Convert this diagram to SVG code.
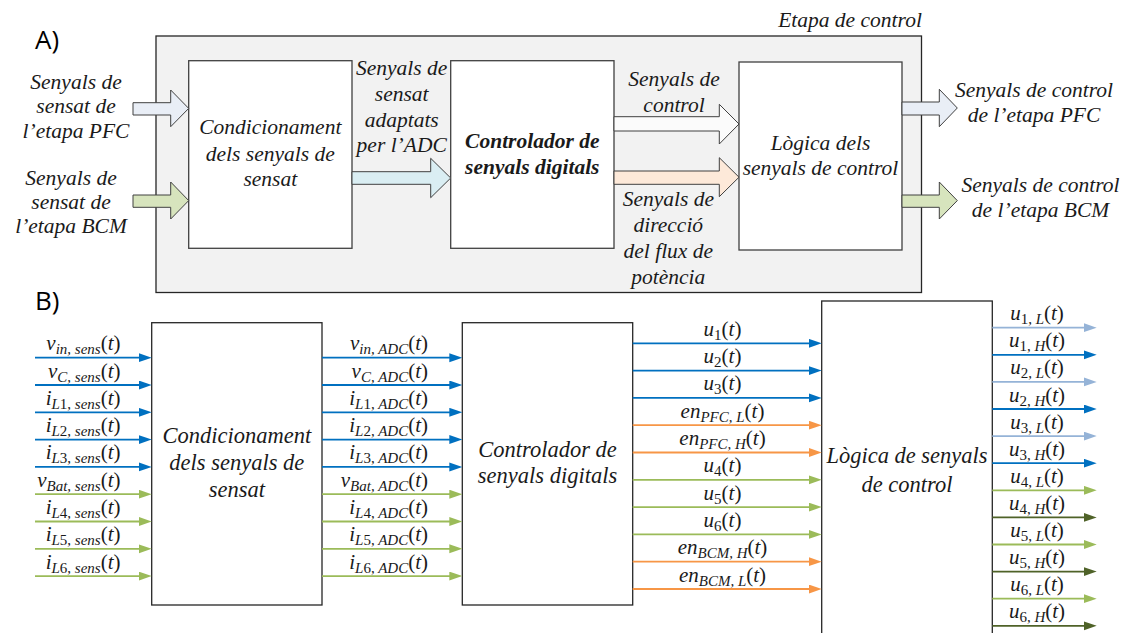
<svg xmlns="http://www.w3.org/2000/svg" width="1122" height="633" viewBox="0 0 1122 633">
  <style>
    .tx { font-family: 'Liberation Serif', 'Times New Roman', serif; font-style: italic; fill: #1a1a1a; }
    .ta { font-size: 21.5px; text-anchor: middle; }
    .tbig { font-size: 22.5px; text-anchor: middle; }
    .tbold { font-weight: bold; }
    .lbl { font-size: 21px; }
    .end { text-anchor: end; }
    .mid { text-anchor: middle; }
    .sub { font-size: 15px; }
    .up { font-style: normal; }
    .panel { font-family: 'Open Sans', 'Noto Sans', sans-serif; font-size: 26px; fill: #000; }
    .frame { fill: #f2f2f2; stroke: #262626; stroke-width: 1.3; }
    .blk { fill: #ffffff; stroke: #404040; stroke-width: 1.3; }
    .blkB { fill: #ffffff; stroke: #262626; stroke-width: 1.3; }
    .fat { stroke: #404040; stroke-width: 1; stroke-linejoin: miter; }
    .sig { stroke-width: 1.8; fill: none; }
    .blue { stroke: #0070c0; }
    .green { stroke: #9bbb59; }
    .orange { stroke: #f79646; }
    .lblue { stroke: #95b3d7; }
    .dgreen { stroke: #4f6228; }
  </style>
  <defs>
    <marker id="hBlue" markerUnits="userSpaceOnUse" markerWidth="14" markerHeight="10" refX="5" refY="4.5" orient="auto"><path d="M0,0 L13,4.5 L0,9 z" fill="#0070c0"/></marker>
    <marker id="hGreen" markerUnits="userSpaceOnUse" markerWidth="14" markerHeight="10" refX="5" refY="4.5" orient="auto"><path d="M0,0 L13,4.5 L0,9 z" fill="#9bbb59"/></marker>
    <marker id="hOrange" markerUnits="userSpaceOnUse" markerWidth="14" markerHeight="10" refX="5" refY="4.5" orient="auto"><path d="M0,0 L13,4.5 L0,9 z" fill="#f79646"/></marker>
    <marker id="hLBlue" markerUnits="userSpaceOnUse" markerWidth="14" markerHeight="10" refX="5" refY="4.5" orient="auto"><path d="M0,0 L13,4.5 L0,9 z" fill="#95b3d7"/></marker>
    <marker id="hDGreen" markerUnits="userSpaceOnUse" markerWidth="14" markerHeight="10" refX="5" refY="4.5" orient="auto"><path d="M0,0 L13,4.5 L0,9 z" fill="#4f6228"/></marker>
  </defs>

  <!-- Part A: block overview -->
  <text class="panel" x="35" y="48.5">A)</text>
  <g id="etapa-control">
    <rect class="frame" x="156" y="36" width="765.5" height="256.5"/>
    <text class="tx ta" x="850" y="26.5">Etapa de control</text>
  </g>

  <g id="a-condicionament">
    <rect class="blk" x="188.7" y="60.7" width="163.3" height="187.6"/>
    <text class="tx ta" x="270.3" y="134">Condicionament</text>
    <text class="tx ta" x="270.3" y="160.5">dels senyals de</text>
    <text class="tx ta" x="270.3" y="186">sensat</text>
  </g>
  <g id="a-controlador">
    <rect class="blk" x="450.7" y="60.7" width="163.3" height="187.6"/>
    <text class="tx ta tbold" x="532.3" y="148">Controlador de</text>
    <text class="tx ta tbold" x="532.3" y="173.5">senyals digitals</text>
  </g>
  <g id="a-logica">
    <rect class="blk" x="739" y="62" width="163" height="188"/>
    <text class="tx ta" x="820.5" y="149.5">L&#242;gica dels</text>
    <text class="tx ta" x="820.5" y="175">senyals de control</text>
  </g>

  <!-- block arrows of part A -->
  <g id="a-connectors">
    <polygon class="fat" fill="#e9eef6" points="133,102.7 170.7,102.7 170.7,90 188.7,108.4 170.7,126.7 170.7,115 133,115"/>
    <polygon class="fat" fill="#d7e4bd" points="133,195 170.7,195 170.7,182 188.7,200.6 170.7,219 170.7,207.3 133,207.3"/>
    <polygon class="fat" fill="#daeef3" points="352,171.7 430.7,171.7 430.7,158.3 450.7,178 430.7,197.7 430.7,184.3 352,184.3"/>
    <polygon class="fat" fill="#fbfbfb" points="614,116.7 719.3,116.7 719.3,104.3 739,124 719.3,144 719.3,131 614,131"/>
    <polygon class="fat" fill="#fde9d9" points="614,171 719.3,171 719.3,157.7 739,177.2 719.3,196.7 719.3,184.3 614,184.3"/>
    <polygon class="fat" fill="#e9eef6" points="902,102 939.3,102 939.3,89.3 957.3,108 939.3,126.7 939.3,115 902,115"/>
    <polygon class="fat" fill="#d7e4bd" points="902,195 939.3,195 939.3,182 957.3,200.6 939.3,219 939.3,207.3 902,207.3"/>
  </g>

  <g id="a-labels">
    <text class="tx ta" x="76" y="88.5">Senyals de</text>
    <text class="tx ta" x="76" y="113">sensat de</text>
    <text class="tx ta" x="76" y="137.5">l&#8217;etapa PFC</text>
    <text class="tx ta" x="71" y="185">Senyals de</text>
    <text class="tx ta" x="71" y="209">sensat de</text>
    <text class="tx ta" x="71" y="233">l&#8217;etapa BCM</text>
    <text class="tx ta" x="401.7" y="75">Senyals de</text>
    <text class="tx ta" x="401.7" y="101">sensat</text>
    <text class="tx ta" x="401.7" y="127">adaptats</text>
    <text class="tx ta" x="401.7" y="152">per l&#8217;ADC</text>
    <text class="tx ta" x="674" y="86">Senyals de</text>
    <text class="tx ta" x="674" y="111.5">control</text>
    <text class="tx ta" x="668.3" y="205.5">Senyals de</text>
    <text class="tx ta" x="668.3" y="232">direcci&#243;</text>
    <text class="tx ta" x="668.3" y="258">del flux de</text>
    <text class="tx ta" x="668.3" y="283.5">pot&#232;ncia</text>
    <text class="tx ta" x="1034" y="96.7">Senyals de control</text>
    <text class="tx ta" x="1034" y="121.7">de l&#8217;etapa PFC</text>
    <text class="tx ta" x="1040.5" y="191.5">Senyals de control</text>
    <text class="tx ta" x="1040.5" y="217">de l&#8217;etapa BCM</text>
  </g>

  <!-- Part B: signal detail -->
  <text class="panel" x="35" y="310">B)</text>

  <g id="b-condicionament">
    <rect class="blkB" x="151.7" y="322.7" width="170.3" height="282.3"/>
    <text class="tx tbig" x="236.8" y="443.3">Condicionament</text>
    <text class="tx tbig" x="236.8" y="470">dels senyals de</text>
    <text class="tx tbig" x="236.8" y="497.3">sensat</text>
  </g>
  <g id="b-controlador">
    <rect class="blkB" x="462.3" y="322.7" width="170.4" height="282.3"/>
    <text class="tx tbig" x="547.5" y="456.7">Controlador de</text>
    <text class="tx tbig" x="547.5" y="483.3">senyals digitals</text>
  </g>
  <g id="b-logica">
    <rect class="blkB" x="821.7" y="301" width="170.6" height="345"/>
    <text class="tx tbig" x="907" y="463.3">L&#242;gica de senyals</text>
    <text class="tx tbig" x="907" y="491.7">de control</text>
  </g>

  <g id="b-connectors">
    <!-- sensed signals into conditioning -->
    <line class="sig blue" x1="35" y1="357.7" x2="143.7" y2="357.7" marker-end="url(#hBlue)"/>
    <line class="sig blue" x1="35" y1="385" x2="143.7" y2="385" marker-end="url(#hBlue)"/>
    <line class="sig blue" x1="35" y1="412.3" x2="143.7" y2="412.3" marker-end="url(#hBlue)"/>
    <line class="sig blue" x1="35" y1="439.6" x2="143.7" y2="439.6" marker-end="url(#hBlue)"/>
    <line class="sig blue" x1="35" y1="466.9" x2="143.7" y2="466.9" marker-end="url(#hBlue)"/>
    <line class="sig green" x1="35" y1="494.2" x2="143.7" y2="494.2" marker-end="url(#hGreen)"/>
    <line class="sig green" x1="35" y1="521.5" x2="143.7" y2="521.5" marker-end="url(#hGreen)"/>
    <line class="sig green" x1="35" y1="548.8" x2="143.7" y2="548.8" marker-end="url(#hGreen)"/>
    <line class="sig green" x1="35" y1="576.1" x2="143.7" y2="576.1" marker-end="url(#hGreen)"/>
    <!-- adapted signals into controller -->
    <line class="sig blue" x1="322" y1="357.7" x2="454.3" y2="357.7" marker-end="url(#hBlue)"/>
    <line class="sig blue" x1="322" y1="385" x2="454.3" y2="385" marker-end="url(#hBlue)"/>
    <line class="sig blue" x1="322" y1="412.3" x2="454.3" y2="412.3" marker-end="url(#hBlue)"/>
    <line class="sig blue" x1="322" y1="439.6" x2="454.3" y2="439.6" marker-end="url(#hBlue)"/>
    <line class="sig blue" x1="322" y1="466.9" x2="454.3" y2="466.9" marker-end="url(#hBlue)"/>
    <line class="sig green" x1="322" y1="494.2" x2="454.3" y2="494.2" marker-end="url(#hGreen)"/>
    <line class="sig green" x1="322" y1="521.5" x2="454.3" y2="521.5" marker-end="url(#hGreen)"/>
    <line class="sig green" x1="322" y1="548.8" x2="454.3" y2="548.8" marker-end="url(#hGreen)"/>
    <line class="sig green" x1="322" y1="576.1" x2="454.3" y2="576.1" marker-end="url(#hGreen)"/>
    <!-- controller outputs -->
    <line class="sig blue" x1="632.7" y1="343.3" x2="813.7" y2="343.3" marker-end="url(#hBlue)"/>
    <line class="sig blue" x1="632.7" y1="370.6" x2="813.7" y2="370.6" marker-end="url(#hBlue)"/>
    <line class="sig blue" x1="632.7" y1="397.9" x2="813.7" y2="397.9" marker-end="url(#hBlue)"/>
    <line class="sig orange" x1="632.7" y1="425.2" x2="813.7" y2="425.2" marker-end="url(#hOrange)"/>
    <line class="sig orange" x1="632.7" y1="452.5" x2="813.7" y2="452.5" marker-end="url(#hOrange)"/>
    <line class="sig green" x1="632.7" y1="479.8" x2="813.7" y2="479.8" marker-end="url(#hGreen)"/>
    <line class="sig green" x1="632.7" y1="507.1" x2="813.7" y2="507.1" marker-end="url(#hGreen)"/>
    <line class="sig green" x1="632.7" y1="534.4" x2="813.7" y2="534.4" marker-end="url(#hGreen)"/>
    <line class="sig orange" x1="632.7" y1="561.7" x2="813.7" y2="561.7" marker-end="url(#hOrange)"/>
    <line class="sig orange" x1="632.7" y1="589" x2="813.7" y2="589" marker-end="url(#hOrange)"/>
    <!-- gate signals out of the logic block -->
    <line class="sig lblue" x1="992.3" y1="327.7" x2="1088.7" y2="327.7" marker-end="url(#hLBlue)"/>
    <line class="sig blue" x1="992.3" y1="354.8" x2="1088.7" y2="354.8" marker-end="url(#hBlue)"/>
    <line class="sig lblue" x1="992.3" y1="381.9" x2="1088.7" y2="381.9" marker-end="url(#hLBlue)"/>
    <line class="sig blue" x1="992.3" y1="409" x2="1088.7" y2="409" marker-end="url(#hBlue)"/>
    <line class="sig lblue" x1="992.3" y1="436.1" x2="1088.7" y2="436.1" marker-end="url(#hLBlue)"/>
    <line class="sig blue" x1="992.3" y1="463.2" x2="1088.7" y2="463.2" marker-end="url(#hBlue)"/>
    <line class="sig green" x1="992.3" y1="490.3" x2="1088.7" y2="490.3" marker-end="url(#hGreen)"/>
    <line class="sig dgreen" x1="992.3" y1="517.4" x2="1088.7" y2="517.4" marker-end="url(#hDGreen)"/>
    <line class="sig green" x1="992.3" y1="544.5" x2="1088.7" y2="544.5" marker-end="url(#hGreen)"/>
    <line class="sig dgreen" x1="992.3" y1="571.6" x2="1088.7" y2="571.6" marker-end="url(#hDGreen)"/>
    <line class="sig green" x1="992.3" y1="598.7" x2="1088.7" y2="598.7" marker-end="url(#hGreen)"/>
    <line class="sig dgreen" x1="992.3" y1="625.8" x2="1088.7" y2="625.8" marker-end="url(#hDGreen)"/>
  </g>

  <g id="b-labels-sens">
    <text class="tx lbl end" x="120.5" y="350.2">v<tspan class="sub" dy="4">in, sens</tspan><tspan class="up" dy="-4">(</tspan>t<tspan class="up">)</tspan></text>
    <text class="tx lbl end" x="120.5" y="377.5">v<tspan class="sub" dy="4">C, sens</tspan><tspan class="up" dy="-4">(</tspan>t<tspan class="up">)</tspan></text>
    <text class="tx lbl end" x="120.5" y="404.8">i<tspan class="sub" dy="4">L<tspan class="up">1,</tspan> sens</tspan><tspan class="up" dy="-4">(</tspan>t<tspan class="up">)</tspan></text>
    <text class="tx lbl end" x="120.5" y="432.1">i<tspan class="sub" dy="4">L<tspan class="up">2,</tspan> sens</tspan><tspan class="up" dy="-4">(</tspan>t<tspan class="up">)</tspan></text>
    <text class="tx lbl end" x="120.5" y="459.4">i<tspan class="sub" dy="4">L<tspan class="up">3,</tspan> sens</tspan><tspan class="up" dy="-4">(</tspan>t<tspan class="up">)</tspan></text>
    <text class="tx lbl end" x="120.5" y="486.7">v<tspan class="sub" dy="4">Bat, sens</tspan><tspan class="up" dy="-4">(</tspan>t<tspan class="up">)</tspan></text>
    <text class="tx lbl end" x="120.5" y="514">i<tspan class="sub" dy="4">L<tspan class="up">4,</tspan> sens</tspan><tspan class="up" dy="-4">(</tspan>t<tspan class="up">)</tspan></text>
    <text class="tx lbl end" x="120.5" y="541.3">i<tspan class="sub" dy="4">L<tspan class="up">5,</tspan> sens</tspan><tspan class="up" dy="-4">(</tspan>t<tspan class="up">)</tspan></text>
    <text class="tx lbl end" x="120.5" y="568.6">i<tspan class="sub" dy="4">L<tspan class="up">6,</tspan> sens</tspan><tspan class="up" dy="-4">(</tspan>t<tspan class="up">)</tspan></text>
  </g>

  <g id="b-labels-adc">
    <text class="tx lbl end" x="428" y="350.2">v<tspan class="sub" dy="4">in, ADC</tspan><tspan class="up" dy="-4">(</tspan>t<tspan class="up">)</tspan></text>
    <text class="tx lbl end" x="428" y="377.5">v<tspan class="sub" dy="4">C, ADC</tspan><tspan class="up" dy="-4">(</tspan>t<tspan class="up">)</tspan></text>
    <text class="tx lbl end" x="428" y="404.8">i<tspan class="sub" dy="4">L<tspan class="up">1,</tspan> ADC</tspan><tspan class="up" dy="-4">(</tspan>t<tspan class="up">)</tspan></text>
    <text class="tx lbl end" x="428" y="432.1">i<tspan class="sub" dy="4">L<tspan class="up">2,</tspan> ADC</tspan><tspan class="up" dy="-4">(</tspan>t<tspan class="up">)</tspan></text>
    <text class="tx lbl end" x="428" y="459.4">i<tspan class="sub" dy="4">L<tspan class="up">3,</tspan> ADC</tspan><tspan class="up" dy="-4">(</tspan>t<tspan class="up">)</tspan></text>
    <text class="tx lbl end" x="428" y="486.7">v<tspan class="sub" dy="4">Bat, ADC</tspan><tspan class="up" dy="-4">(</tspan>t<tspan class="up">)</tspan></text>
    <text class="tx lbl end" x="428" y="514">i<tspan class="sub" dy="4">L<tspan class="up">4,</tspan> ADC</tspan><tspan class="up" dy="-4">(</tspan>t<tspan class="up">)</tspan></text>
    <text class="tx lbl end" x="428" y="541.3">i<tspan class="sub" dy="4">L<tspan class="up">5,</tspan> ADC</tspan><tspan class="up" dy="-4">(</tspan>t<tspan class="up">)</tspan></text>
    <text class="tx lbl end" x="428" y="568.6">i<tspan class="sub" dy="4">L<tspan class="up">6,</tspan> ADC</tspan><tspan class="up" dy="-4">(</tspan>t<tspan class="up">)</tspan></text>
  </g>

  <g id="b-labels-ctrl">
    <text class="tx lbl mid" x="722.5" y="335.8">u<tspan class="sub up" dy="4">1</tspan><tspan class="up" dy="-4">(</tspan>t<tspan class="up">)</tspan></text>
    <text class="tx lbl mid" x="722.5" y="363.1">u<tspan class="sub up" dy="4">2</tspan><tspan class="up" dy="-4">(</tspan>t<tspan class="up">)</tspan></text>
    <text class="tx lbl mid" x="722.5" y="390.4">u<tspan class="sub up" dy="4">3</tspan><tspan class="up" dy="-4">(</tspan>t<tspan class="up">)</tspan></text>
    <text class="tx lbl mid" x="722.5" y="417.7">en<tspan class="sub" dy="4">PFC, L</tspan><tspan class="up" dy="-4">(</tspan>t<tspan class="up">)</tspan></text>
    <text class="tx lbl mid" x="722.5" y="445">en<tspan class="sub" dy="4">PFC, H</tspan><tspan class="up" dy="-4">(</tspan>t<tspan class="up">)</tspan></text>
    <text class="tx lbl mid" x="722.5" y="472.3">u<tspan class="sub up" dy="4">4</tspan><tspan class="up" dy="-4">(</tspan>t<tspan class="up">)</tspan></text>
    <text class="tx lbl mid" x="722.5" y="499.6">u<tspan class="sub up" dy="4">5</tspan><tspan class="up" dy="-4">(</tspan>t<tspan class="up">)</tspan></text>
    <text class="tx lbl mid" x="722.5" y="526.9">u<tspan class="sub up" dy="4">6</tspan><tspan class="up" dy="-4">(</tspan>t<tspan class="up">)</tspan></text>
    <text class="tx lbl mid" x="722.5" y="554.2">en<tspan class="sub" dy="4">BCM, H</tspan><tspan class="up" dy="-4">(</tspan>t<tspan class="up">)</tspan></text>
    <text class="tx lbl mid" x="722.5" y="581.5">en<tspan class="sub" dy="4">BCM, L</tspan><tspan class="up" dy="-4">(</tspan>t<tspan class="up">)</tspan></text>
  </g>

  <g id="b-labels-gate">
    <text class="tx lbl mid" x="1037" y="320.2">u<tspan class="sub" dy="4"><tspan class="up">1,</tspan> L</tspan><tspan class="up" dy="-4">(</tspan>t<tspan class="up">)</tspan></text>
    <text class="tx lbl mid" x="1037" y="347.3">u<tspan class="sub" dy="4"><tspan class="up">1,</tspan> H</tspan><tspan class="up" dy="-4">(</tspan>t<tspan class="up">)</tspan></text>
    <text class="tx lbl mid" x="1037" y="374.4">u<tspan class="sub" dy="4"><tspan class="up">2,</tspan> L</tspan><tspan class="up" dy="-4">(</tspan>t<tspan class="up">)</tspan></text>
    <text class="tx lbl mid" x="1037" y="401.5">u<tspan class="sub" dy="4"><tspan class="up">2,</tspan> H</tspan><tspan class="up" dy="-4">(</tspan>t<tspan class="up">)</tspan></text>
    <text class="tx lbl mid" x="1037" y="428.6">u<tspan class="sub" dy="4"><tspan class="up">3,</tspan> L</tspan><tspan class="up" dy="-4">(</tspan>t<tspan class="up">)</tspan></text>
    <text class="tx lbl mid" x="1037" y="455.7">u<tspan class="sub" dy="4"><tspan class="up">3,</tspan> H</tspan><tspan class="up" dy="-4">(</tspan>t<tspan class="up">)</tspan></text>
    <text class="tx lbl mid" x="1037" y="482.8">u<tspan class="sub" dy="4"><tspan class="up">4,</tspan> L</tspan><tspan class="up" dy="-4">(</tspan>t<tspan class="up">)</tspan></text>
    <text class="tx lbl mid" x="1037" y="509.9">u<tspan class="sub" dy="4"><tspan class="up">4,</tspan> H</tspan><tspan class="up" dy="-4">(</tspan>t<tspan class="up">)</tspan></text>
    <text class="tx lbl mid" x="1037" y="537">u<tspan class="sub" dy="4"><tspan class="up">5,</tspan> L</tspan><tspan class="up" dy="-4">(</tspan>t<tspan class="up">)</tspan></text>
    <text class="tx lbl mid" x="1037" y="564.1">u<tspan class="sub" dy="4"><tspan class="up">5,</tspan> H</tspan><tspan class="up" dy="-4">(</tspan>t<tspan class="up">)</tspan></text>
    <text class="tx lbl mid" x="1037" y="591.2">u<tspan class="sub" dy="4"><tspan class="up">6,</tspan> L</tspan><tspan class="up" dy="-4">(</tspan>t<tspan class="up">)</tspan></text>
    <text class="tx lbl mid" x="1037" y="618.3">u<tspan class="sub" dy="4"><tspan class="up">6,</tspan> H</tspan><tspan class="up" dy="-4">(</tspan>t<tspan class="up">)</tspan></text>
  </g>
</svg>
